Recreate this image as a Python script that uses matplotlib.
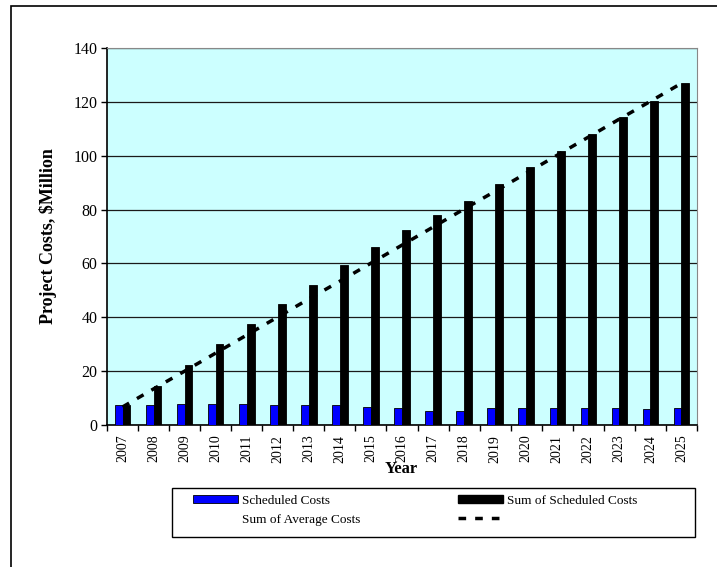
import numpy as np
import matplotlib
matplotlib.use('Agg')
import matplotlib.pyplot as plt
from matplotlib.patches import Rectangle, Patch
from matplotlib.lines import Line2D

years = ['2007', '2008', '2009', '2010', '2011', '2012', '2013', '2014', '2015', '2016',
         '2017', '2018', '2019', '2020', '2021', '2022', '2023', '2024', '2025']
scheduled = [7.3, 7.3, 7.8, 7.8, 7.8, 7.3, 7.3, 7.3, 6.8, 6.3,
             5.3, 5.3, 6.3, 6.3, 6.3, 6.3, 6.3, 5.8, 6.3]
sum_scheduled = [7.3, 14.6, 22.4, 30.2, 37.5, 44.8, 52.1, 59.4, 66.2, 72.5,
                 77.8, 83.1, 89.4, 95.7, 101.8, 108.1, 114.4, 120.4, 126.9]
sum_average = [6.7, 13.4, 20.0, 26.7, 33.4, 40.1, 46.8, 53.4, 60.1, 66.8,
               73.5, 80.2, 86.8, 93.5, 100.2, 106.9, 113.6, 120.2, 126.9]

plt.rcParams['font.family'] = ['Liberation Serif', 'DejaVu Serif']

W, H = 717, 567
fig = plt.figure(figsize=(W / 100, H / 100), dpi=100)
ax = fig.add_axes([107 / W, 1 - 425 / H, 590 / W, 377 / H])

x = np.arange(len(years))
w = 0.25
ax.set_facecolor('#CCFFFF')
ax.bar(x - w / 2, scheduled, w, color='#0000FF', edgecolor='black', linewidth=0.6, zorder=3)
ax.bar(x + w / 2, sum_scheduled, w, color='black', edgecolor='black', linewidth=0.6, zorder=3)
ax.plot(x, sum_average, color='black', linestyle=(0, (2.2, 2.6)), linewidth=2.5, zorder=4)

ax.set_xlim(-0.5, len(years) - 0.5)
ax.set_ylim(0, 140)
ax.set_yticks(range(0, 141, 20))
ax.yaxis.grid(True, color='#1a1a1a', linewidth=0.9, zorder=1)
ax.set_axisbelow(True)

ax.set_xticks(x)
ax.set_xticklabels(years, rotation=90, fontsize=10)
ax.tick_params(axis='x', which='major', length=0, pad=7)
ax.set_xticks(np.arange(-0.5, len(years), 1), minor=True)
ax.tick_params(axis='x', which='minor', length=4, width=1, color='black')
ax.tick_params(axis='y', length=4, width=1, labelsize=11.5, pad=3)

ax.spines['left'].set_color('black')
ax.spines['bottom'].set_color('black')
ax.spines['left'].set_linewidth(1.2)
ax.spines['bottom'].set_linewidth(1.2)
ax.spines['top'].set_color('#888888')
ax.spines['right'].set_color('#888888')

ax.set_ylabel('Project Costs, $Million', fontsize=13, fontweight='bold', labelpad=12)
fig.text(401 / W, 1 - 469 / H, 'Year', ha='center', va='center',
         fontsize=12, fontweight='bold')

# legend: text entries without a frame, the frame drawn as its own box
handles = [Patch(facecolor='#0000FF', edgecolor='black', linewidth=0.6),
           Line2D([], [], color='none'),
           Patch(facecolor='black', edgecolor='black'),
           Line2D([], [], color='black', linestyle=(0, (2.2, 2.6)), linewidth=2.5)]
labels = ['Scheduled Costs', 'Sum of Average Costs', 'Sum of Scheduled Costs', '']
leg = fig.legend(handles, labels, ncol=2, loc='upper left',
                 bbox_to_anchor=(193 / W, 1 - 495 / H), borderaxespad=0, borderpad=0,
                 fontsize=9.5, frameon=False,
                 handlelength=3.4, handleheight=0.55, columnspacing=7.4,
                 labelspacing=0.5, handletextpad=0.3)

fig.patches.append(Rectangle((172 / W, 1 - 537 / H), 523 / W, 49 / H, transform=fig.transFigure,
                             fill=False, edgecolor='black', linewidth=1.0))
fig.patches.append(Rectangle((11 / W, -0.1), 2, 1.1 - 6 / H, transform=fig.transFigure,
                             fill=False, edgecolor='black', linewidth=1.2))

fig.savefig('out.png', dpi=100)
